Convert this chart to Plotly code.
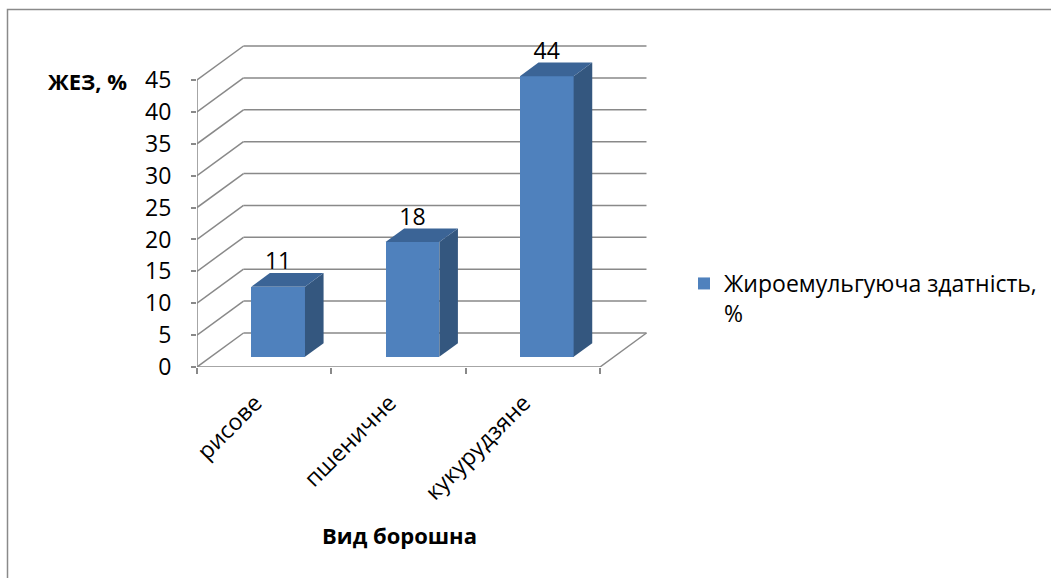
import plotly.graph_objects as go

# ---- data ----
categories = ["рисове", "пшеничне", "кукурудзяне"]
values = [11, 18, 44]
series_name = "Жироемульгуюча здатність,<br>%"
y_ticks = [0, 5, 10, 15, 20, 25, 30, 35, 40, 45]
y_title = "ЖЕЗ, %"
x_title = "Вид борошна"

# ---- page / projection settings ----
W, H = 1051, 578
FONT = "Open Sans"
FS = 23          # regular text size
FS_BOLD = 22     # axis titles
GRID = "#898989"
FRONT = "#4F81BD"
SIDE = "#34577F"
TOP = "#3B6496"

# plot area in pixels (front plane origin at left/bottom)
PX_L, PX_R = 197, 660
PX_B, PX_T = 367, 40
X_UNIT = 134.33   # pixels per category
Y_UNIT = 6.378    # pixels per value unit
DX = 46.5 / X_UNIT   # depth offset of back wall (x, data units)
DY = 34.0 / Y_UNIT   # depth offset of back wall (y, data units)
BAR_W = 0.4
F_FRONT, F_BACK = 0.3, 0.7  # bar depth position (fraction of floor depth)
LABEL_NUDGE = -9 / X_UNIT   # category labels sit slightly left of centre
VALUE_LABEL_GAP = -2 / Y_UNIT
Y_MAX = y_ticks[-1]
X0, X1 = -0.5, len(categories) - 0.5

x_range = [X0, X0 + (PX_R - PX_L) / X_UNIT]
y_range = [0, (PX_B - PX_T) / Y_UNIT]


def px(x):
    return x / W


def py(y):
    return 1 - y / H


fig = go.Figure()

# front faces of the bars
fig.add_trace(go.Bar(
    x=[i + F_FRONT * DX for i in range(len(values))],
    y=values,
    base=F_FRONT * DY,
    width=BAR_W,
    marker=dict(color=FRONT, line=dict(width=0)),
    name=series_name,
    showlegend=True,
    hoverinfo="skip",
))

# side and top faces
d = (F_BACK - F_FRONT)
for i, v in enumerate(values):
    xl = i + F_FRONT * DX - BAR_W / 2
    xr = xl + BAR_W
    b = F_FRONT * DY
    t = b + v
    fig.add_trace(go.Scatter(
        x=[xr, xr, xr + d * DX, xr + d * DX, xr],
        y=[b, t, t + d * DY, b + d * DY, b],
        fill="toself", fillcolor=SIDE, mode="lines",
        line=dict(width=0, color=SIDE), showlegend=False, hoverinfo="skip",
    ))
    fig.add_trace(go.Scatter(
        x=[xl, xr, xr + d * DX, xl + d * DX, xl],
        y=[t, t, t + d * DY, t + d * DY, t],
        fill="toself", fillcolor=TOP, mode="lines",
        line=dict(width=0, color=TOP), showlegend=False, hoverinfo="skip",
    ))

# value labels above each bar
fig.add_trace(go.Scatter(
    x=[i + F_FRONT * DX for i in range(len(values))],
    y=[v + F_BACK * DY + VALUE_LABEL_GAP for v in values],
    mode="text",
    text=[str(v) for v in values],
    textposition="top center",
    textfont=dict(family=FONT, size=FS, color="black"),
    showlegend=False, hoverinfo="skip", cliponaxis=False,
))

# walls, floor and gridlines
shapes = []
line = dict(color=GRID, width=1.5)
for v in y_ticks:
    shapes.append(dict(type="line", xref="x", yref="y", layer="below",
                       x0=X0, y0=v, x1=X0 + DX, y1=v + DY, line=line))
    shapes.append(dict(type="line", xref="x", yref="y", layer="below",
                       x0=X0 + DX, y0=v + DY, x1=X1 + DX, y1=v + DY, line=line))
# floor right edge and front edge, value axis line
shapes.append(dict(type="line", xref="x", yref="y", layer="below",
                   x0=X1, y0=0, x1=X1 + DX, y1=DY, line=line))
shapes.append(dict(type="line", xref="x", yref="y", layer="below",
                   x0=X0, y0=0, x1=X1, y1=0, line=line))
shapes.append(dict(type="line", xref="x", yref="y", layer="below",
                   x0=X0, y0=0, x1=X0, y1=Y_MAX, line=line))
# chart border (top and left edges visible)
shapes.append(dict(type="rect", xref="paper", yref="paper",
                   x0=px(7.5), y0=-0.05, x1=1.05, y1=py(9.5),
                   line=dict(color="#8a8a8a", width=1.5)))

fig.update_layout(
    width=W, height=H,
    margin=dict(l=0, r=0, t=0, b=0, autoexpand=False),
    paper_bgcolor="white", plot_bgcolor="rgba(0,0,0,0)",
    shapes=shapes,
    bargap=0,
    xaxis=dict(
        domain=[px(PX_L), px(PX_R)], range=x_range, automargin=False,
        tickmode="array",
        tickvals=[i + LABEL_NUDGE for i in range(len(categories))],
        ticktext=categories,
        ticks="", tickangle=-45, ticklabelstandoff=17,
        tickfont=dict(family=FONT, size=FS, color="black"),
        minor=dict(tickmode="linear", tick0=X0, dtick=1, ticks="outside",
                   ticklen=6, tickwidth=1.5, tickcolor=GRID, showgrid=False),
        showgrid=False, zeroline=False, showline=False,
    ),
    yaxis=dict(
        domain=[py(PX_B), py(PX_T)], range=y_range, automargin=False,
        tickmode="array", tickvals=y_ticks,
        ticks="outside", ticklen=5, tickwidth=1.5, tickcolor=GRID,
        ticklabelstandoff=15,
        tickfont=dict(family=FONT, size=FS, color="black"),
        showgrid=False, zeroline=False, showline=False,
    ),
    legend=dict(
        x=px(684), y=py(262), xanchor="left", yanchor="top", valign="top",
        font=dict(family=FONT, size=FS, color="black"),
        bgcolor="rgba(0,0,0,0)",
    ),
    annotations=[
        dict(text="<b>" + y_title + "</b>", xref="paper", yref="paper",
             x=px(129), y=py(81), xanchor="right", yanchor="middle",
             showarrow=False, font=dict(family=FONT, size=FS_BOLD, color="black")),
        dict(text="<b>" + x_title + "</b>", xref="paper", yref="paper",
             x=px(399), y=py(535), xanchor="center", yanchor="middle",
             showarrow=False, font=dict(family=FONT, size=FS_BOLD, color="black")),
    ],
)

fig.write_html("out.html")
